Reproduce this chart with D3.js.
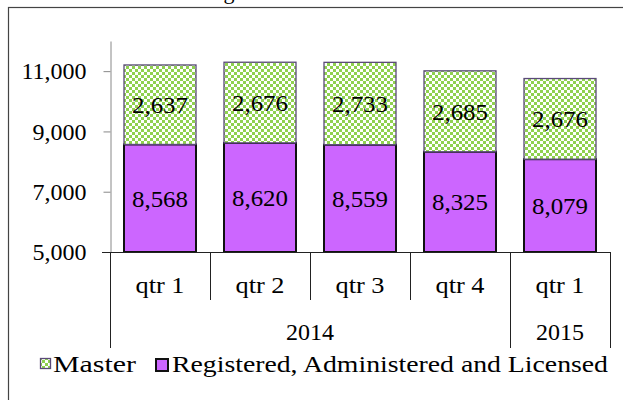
<!DOCTYPE html>
<html>
<head>
<meta charset="utf-8">
<script src="https://cdnjs.cloudflare.com/ajax/libs/d3/7.8.5/d3.min.js"></script>
<style>
  body { margin: 0; background: #fff; }
  svg { display: block; }
  text { font-family: "Liberation Serif", "Times New Roman", serif; fill: #000; }
</style>
</head>
<body>
<svg class="canvasClass" width="623" height="400"></svg>
<script>
// chart data
const quarters = ["qtr 1", "qtr 2", "qtr 3", "qtr 4", "qtr 1"];
const years = ["2014", "2014", "2014", "2014", "2015"];
const registered = [8568, 8620, 8559, 8325, 8079];
const master = [2637, 2676, 2733, 2685, 2676];
const yTicks = [5000, 7000, 9000, 11000];
const seriesNames = ["Master", "Registered, Administered and Licensed"];

function setupDom() {
    let svg = d3.select(".canvasClass");

    // checker fill for the Master series
    let pat = svg.append("defs").append("pattern")
        .attr("id", "checker")
        .attr("patternUnits", "userSpaceOnUse")
        .attr("width", 6).attr("height", 6);
    pat.append("rect").attr("width", 6).attr("height", 6).attr("fill", "#fff");
    pat.append("rect").attr("width", 3).attr("height", 3).attr("fill", "#8fd14f");
    pat.append("rect").attr("x", 3).attr("y", 3).attr("width", 3).attr("height", 3).attr("fill", "#8fd14f");

    // chart border (right / bottom edges fall outside the picture)
    svg.append("rect")
        .attr("x", 8.5).attr("y", 7.5)
        .attr("width", 700).attr("height", 500)
        .attr("fill", "none").attr("stroke", "#444").attr("stroke-width", 1.2);

    // title, mostly above the top edge
    svg.append("text")
        .attr("x", 318).attr("y", -1)
        .attr("text-anchor", "middle")
        .style("font-size", "22px")
        .text("Figure 3: Active Licenses");

    let keys = quarters.map((q, i) => years[i] + " " + q);
    let rows = keys.map((k, i) => ({key: k, registered: registered[i], master: master[i]}));

    let x = d3.scaleBand()
        .domain(keys)
        .range([110, 610])
        .paddingInner(0.28)
        .paddingOuter(0.14);

    let y = d3.scaleLinear()
        .domain([5000, 12000])
        .range([252, 41])
        .clamp(true);

    // y axis
    let yAxis = svg.append("g")
        .attr("transform", "translate(110.5,0)")
        .call(d3.axisLeft(y)
            .tickValues(yTicks)
            .tickSize(7)
            .tickSizeOuter(0)
            .tickPadding(17)
            .tickFormat(d3.format(",")));
    yAxis.select(".domain").attr("stroke", "#888");
    yAxis.selectAll(".tick line").attr("stroke", "#888");
    yAxis.selectAll(".tick text")
        .style("font-size", "24px")
        .attr("font-family", null);

    // stacked bars
    let stacked = d3.stack().keys(["registered", "master"])(rows);

    svg.append("g").selectAll("g")
        .data(stacked)
        .enter()
        .append("g")
        .attr("fill", d => d.key == "master" ? "url(#checker)" : "#cc66ff")
        .attr("stroke", d => d.key == "master" ? "#5a4a78" : "#111")
        .attr("stroke-width", d => d.key == "master" ? 1.3 : 2)
        .selectAll("rect")
        .data(d => d)
        .enter()
        .append("rect")
        .attr("x", d => x(d.data.key))
        .attr("width", x.bandwidth())
        .attr("y", d => y(d[1]))
        .attr("height", d => y(d[0]) - y(d[1]));

    // value labels
    svg.append("g").selectAll("g")
        .data(stacked)
        .enter()
        .append("g")
        .selectAll("text")
        .data(d => d)
        .enter()
        .append("text")
        .attr("x", d => x(d.data.key) + x.bandwidth() / 2)
        .attr("y", d => (y(d[0]) + y(d[1])) / 2)
        .attr("dy", "0.35em")
        .attr("text-anchor", "middle")
        .attr("textLength", 56)
        .attr("lengthAdjust", "spacingAndGlyphs")
        .style("font-size", "24px")
        .text(d => d3.format(",")(d[1] - d[0]));

    // category axis
    let step = x.step();
    let edges = keys.map(k => x(k) - step * x.paddingOuter());
    edges.push(x.range()[1]);

    svg.append("line")
        .attr("x1", 102).attr("x2", 610.5)
        .attr("y1", 252.5).attr("y2", 252.5)
        .attr("stroke", "#222").attr("stroke-width", 1);

    svg.append("g").selectAll("line")
        .data(edges)
        .enter()
        .append("line")
        .attr("x1", d => Math.round(d) + 0.5)
        .attr("x2", d => Math.round(d) + 0.5)
        .attr("y1", 252)
        .attr("y2", (d, i) => (i == 0 || i == edges.length - 1 || years[i] != years[i - 1]) ? 348 : 300)
        .attr("stroke", "#222").attr("stroke-width", 1);

    svg.append("g").selectAll("text")
        .data(keys)
        .enter()
        .append("text")
        .attr("x", d => x(d) + x.bandwidth() / 2)
        .attr("y", 293)
        .attr("text-anchor", "middle")
        .attr("textLength", 49)
        .attr("lengthAdjust", "spacingAndGlyphs")
        .style("font-size", "24px")
        .text((d, i) => quarters[i]);

    // year groups
    let yearGroups = [];
    years.forEach((yr, i) => {
        let last = yearGroups[yearGroups.length - 1];
        if (last && last.year == yr) last.end = i;
        else yearGroups.push({year: yr, start: i, end: i});
    });

    svg.append("g").selectAll("text")
        .data(yearGroups)
        .enter()
        .append("text")
        .attr("x", d => (edges[d.start] + edges[d.end + 1]) / 2)
        .attr("y", 340)
        .attr("text-anchor", "middle")
        .style("font-size", "24px")
        .text(d => d.year);

    // legend
    let legend = svg.append("g");
    legend.append("rect")
        .attr("x", 40.5).attr("y", 358.5).attr("width", 10).attr("height", 10)
        .attr("fill", "url(#checker)").attr("stroke", "#5a4a78").attr("stroke-width", 1.3);
    legend.append("text")
        .attr("x", 53).attr("y", 372)
        .attr("textLength", 83)
        .attr("lengthAdjust", "spacingAndGlyphs")
        .style("font-size", "24px")
        .text(seriesNames[0]);
    legend.append("rect")
        .attr("x", 156).attr("y", 359).attr("width", 12).attr("height", 12)
        .attr("fill", "#cc66ff").attr("stroke", "#111").attr("stroke-width", 2);
    legend.append("text")
        .attr("x", 172).attr("y", 372)
        .attr("textLength", 436)
        .attr("lengthAdjust", "spacingAndGlyphs")
        .style("font-size", "24px")
        .text(seriesNames[1]);
}

setupDom();
</script>
</body>
</html>
